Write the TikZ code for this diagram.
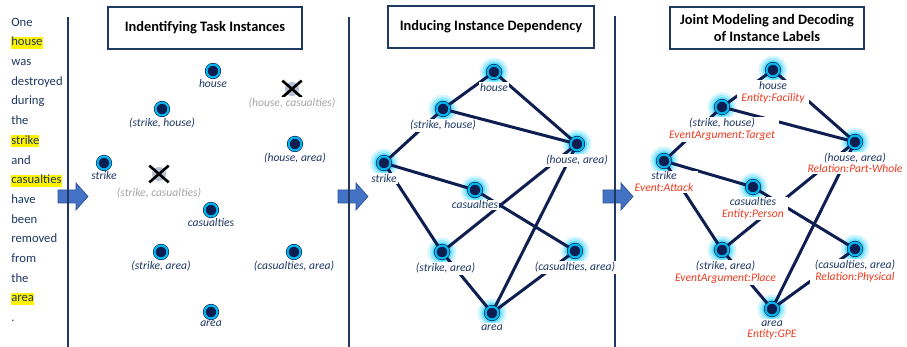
\documentclass[tikz,border=0pt]{standalone}
\usepackage{fontspec}
\setmainfont{Carlito}
\usetikzlibrary{positioning,shapes.misc}
\definecolor{TINavy}{HTML}{1F3864}
\definecolor{TIDark}{HTML}{0E1E50}
\definecolor{TICyan}{HTML}{00B8F0}
\definecolor{TIGlow}{HTML}{3FD8FA}
\definecolor{TIRed}{HTML}{EE3B1F}
\definecolor{TIGray}{HTML}{A6A6A6}
\definecolor{TIGone}{HTML}{B8C2D6}
\definecolor{TIBlue}{HTML}{4472C4}
\definecolor{TIBlueLine}{HTML}{2F5597}

\tikzset{
  wd/.style={anchor=west,inner sep=0pt,text=TINavy,font=\fontsize{7.2}{8}\selectfont,
    text height=5.2pt,text depth=1.6pt},
  hl/.style={wd,fill=yellow},
  ttl/.style={draw=TINavy,line width=.6pt,fill=white,align=center,minimum height=.84cm,
    font=\bfseries\fontsize{8.2}{9.8}\selectfont},
  inst/.style={circle,inner sep=0pt,minimum size=7.3pt,fill=TIDark,draw=TICyan,line width=1.2pt},
  inode/.style={preaction={draw=TIDark,line width=1.9pt},inst},
  gnode/.style={preaction={draw=TIGlow!22,line width=9pt},
    preaction={draw=TIGlow!48,line width=6.4pt},
    preaction={draw=TIGlow!85,line width=3.8pt},
    preaction={draw=TIDark,line width=1.9pt},inst},
  gone/.style={circle,inner sep=0pt,minimum size=8pt,fill=TIGone},
  xmark/.style={cross out,draw=black,line width=1.5pt,minimum width=9.5pt,minimum height=8pt,inner sep=0pt},
  lbl/.style={align=center,inner sep=.6pt,fill=white,text=TINavy,
    font=\itshape\fontsize{6.6}{6.7}\selectfont},
  lbl2/.style={lbl,inner xsep=2.5pt},
  gonelbl/.style={lbl,text=TIGray},
  dep/.style={draw=TIDark,line width=1.7pt},
  sep/.style={draw=TINavy,line width=1.1pt}
}

\begin{document}
\begin{tikzpicture}[x=0.02cm,y=-0.02cm]
\path[use as bounding box] (0,0) rectangle (907,347);
\fill[white] (0,0) rectangle (907,347);

% input sentence
\node[wd] (w1) at (11,23) {One};
\node[hl] (w2) at (11,42.7) {house};
\node[wd] (w3) at (11,62.4) {was};
\node[wd] (w4) at (11,82.1) {destroyed};
\node[wd] (w5) at (11,101.8) {during};
\node[wd] (w6) at (11,121.5) {the};
\node[hl] (w7) at (11,141.2) {strike};
\node[wd] (w8) at (11,160.9) {and};
\node[hl] (w9) at (11,180.6) {casualties};
\node[wd] (w10) at (11,200.3) {have};
\node[wd] (w11) at (11,220) {been};
\node[wd] (w12) at (11,239.7) {removed};
\node[wd] (w13) at (11,259.4) {from};
\node[wd] (w14) at (11,279.1) {the};
\node[hl] (w15) at (11,298.8) {area};
\node[wd] (w16) at (11,318.5) {.};

% block arrows and separators
\foreach \ax in {58,338,603}
  \filldraw[fill=TIBlue,draw=TIBlueLine,line width=.4pt] (\ax,190) -- ++(18,0) -- ++(0,-7)
    -- ++(12,13.5) -- ++(-12,13.5) -- ++(0,-7) -- ++(-18,0) -- cycle;
\draw[sep] (68,17) -- (68,347);
\draw[sep] (349,17) -- (349,347);
\draw[sep] (615,16) -- (615,347);

% titles
\node[ttl,minimum width=3.88cm] (t1) at (205,28) {Indentifying Task Instances};
\node[ttl,minimum width=4.12cm] (t2) at (491,27) {Inducing Instance Dependency};
\node[ttl,minimum width=3.88cm] (t3) at (767,28) {Joint Modeling and Decoding\\of Instance Labels};

% panel 1: candidate instances
\node[inode] (h1) at (213,71) {};
\node[inode] (sh1) at (162,109) {};
\node[inode] (s1) at (104,163) {};
\node[inode] (ha1) at (295,144) {};
\node[inode] (c1) at (211,210) {};
\node[inode] (sa1) at (161,252) {};
\node[inode] (ca1) at (294,252) {};
\node[inode] (a1) at (211,312) {};
\node[gone] (hc1) at (292,89) {};
\node[xmark] (hc1x) at (hc1) {};
\node[gone] (sc1) at (159,174) {};
\node[xmark] (sc1x) at (sc1) {};
\node[lbl,below=0pt of h1] (h1l) {house};
\node[lbl,below=0pt of sh1] (sh1l) {(strike, house)};
\node[lbl,below=0pt of s1] (s1l) {strike};
\node[lbl,below=0pt of ha1] (ha1l) {(house, area)};
\node[lbl,below=0pt of c1] (c1l) {casualties};
\node[lbl,below=0pt of sa1] (sa1l) {(strike, area)};
\node[lbl,below=0pt of ca1] (ca1l) {(casualties, area)};
\node[lbl,below=0pt of a1] (a1l) {area};
\node[gonelbl,below=0pt of hc1] (hc1l) {(house, casualties)};
\node[gonelbl,below=3pt of sc1] (sc1l) {(strike, casualties)};

% panel 2: dependency graph
\node[gnode] (h2) at (494,72) {};
\node[gnode] (sh2) at (443,109) {};
\node[gnode] (ha2) at (577,144) {};
\node[gnode] (s2) at (384,163) {};
\node[gnode] (c2) at (475,190) {};
\node[gnode] (sa2) at (442,252) {};
\node[gnode] (ca2) at (575,251) {};
\node[gnode] (a2) at (492,313) {};

% panel 3: decoded labels
\node[gnode] (h3) at (773,70) {};
\node[gnode] (sh3) at (722,107) {};
\node[gnode] (ha3) at (855,142) {};
\node[gnode] (s3) at (664,161) {};
\node[gnode] (c3) at (753,187) {};
\node[gnode] (sa3) at (722,250) {};
\node[gnode] (ca3) at (855,249) {};
\node[gnode] (a3) at (772,309) {};

\foreach \p in {2,3}
  \foreach \u/\v in {h/sh,h/ha,sh/ha,sh/s,s/c,s/sa,ha/sa,c/ca,ha/a,ca/a,sa/a}
    \draw[dep] (\u\p) -- (\v\p);

\node[lbl,below=1.5pt of h2] (h2l) {house};
\node[lbl,below=1.5pt of sh2] (sh2l) {(strike, house)};
\node[lbl,below=1.5pt of ha2] (ha2l) {(house, area)};
\node[lbl,below=1.5pt of s2] (s2l) {strike};
\node[lbl,below=1pt of c2] (c2l) {casualties};
\node[lbl,below=1.5pt of sa2,xshift=2pt] (sa2l) {(strike, area)};
\node[lbl,below=1.5pt of ca2] (ca2l) {(casualties, area)};
\node[lbl,below=1.5pt of a2] (a2l) {area};

\node[lbl2,below=1.5pt of h3] (h3l) {house\\\color{TIRed}Entity:Facility};
\node[lbl2,below=1.5pt of sh3] (sh3l) {(strike, house)\\\color{TIRed}EventArgument:Target};
\node[lbl2,below=1pt of ha3] (ha3l) {(house, area)\\\color{TIRed}Relation:Part-Whole};
\node[lbl2,below=1pt of s3] (s3l) {strike\\\color{TIRed}Event:Attack};
\node[lbl2,below=1pt of c3] (c3l) {casualties\\\color{TIRed}Entity:Person};
\node[lbl2,below=1.5pt of sa3,xshift=2pt] (sa3l) {(strike, area)\\\color{TIRed}EventArgument:Place};
\node[lbl2,below=1.5pt of ca3] (ca3l) {(casualties, area)\\\color{TIRed}Relation:Physical};
\node[lbl2,below=1.5pt of a3] (a3l) {area\\\color{TIRed}Entity:GPE};
\end{tikzpicture}
\end{document}
